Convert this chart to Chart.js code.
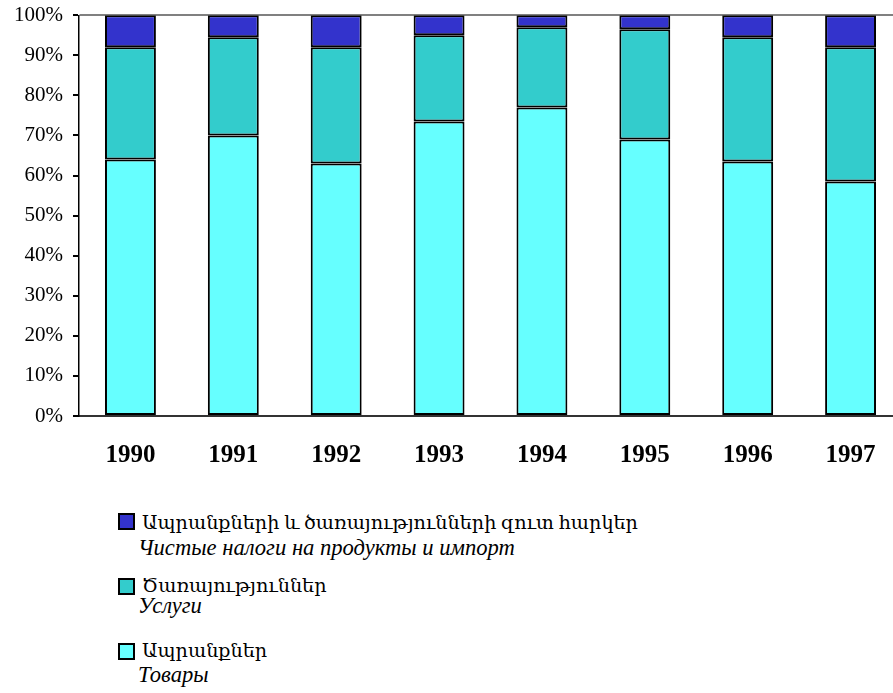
<!DOCTYPE html>
<html>
<head>
<meta charset="utf-8">
<script src="https://cdn.jsdelivr.net/npm/chart.js@4"></script>
<style>
  html, body { margin: 0; padding: 0; background: #fff; overflow: hidden; width: 893px; height: 693px; }
  #wrap { position: absolute; left: 0; top: 0; width: 902px; height: 480px; }
  .legend { position: absolute; left: 0; top: 0; }
  .sw { position: absolute; width: 13px; height: 13px; border: 2px solid #000; }
  .am { position: absolute; white-space: nowrap; font-family: "Liberation Serif", "DejaVu Serif", serif; font-size: 19.2px; color: #000; }
  .ru { position: absolute; white-space: nowrap; font-family: "Liberation Serif", serif; font-style: italic; font-size: 22.6px; color: #000; }
</style>
</head>
<body>
<div id="wrap"><canvas id="myChart" width="902" height="480"></canvas></div>
<div class="legend" id="legend"></div>
<script>
const years = ['1990', '1991', '1992', '1993', '1994', '1995', '1996', '1997'];
const goods = [64, 70, 63, 73.5, 77, 69, 63.5, 58.5];
const services = [28, 24.5, 29, 21.5, 20, 27.5, 31, 33.5];
const taxes = [8, 5.5, 8, 5, 3, 3.5, 5.5, 8];
const labelsAm = ['Ապրանքներ', 'Ծառայություններ', 'Ապրանքների և ծառայությունների զուտ հարկեր'];
const labelsRu = ['Товары', 'Услуги', 'Чистые налоги на продукты и импорт'];
const colors = ['#66ffff', '#33cccc', '#3333cc'];

const serif = "'Liberation Serif', 'Times New Roman', serif";

const ctx = document.getElementById('myChart');
const myChart = new Chart(ctx, {
    type: 'bar',
    data: {
        labels: years,
        datasets: [
            { label: labelsAm[0], data: goods, backgroundColor: colors[0] },
            { label: labelsAm[1], data: services, backgroundColor: colors[1] },
            { label: labelsAm[2], data: taxes, backgroundColor: colors[2] }
        ].map(d => Object.assign(d, {
            borderColor: '#000',
            borderWidth: 2,
            borderSkipped: false,
            categoryPercentage: 1,
            barPercentage: 0.495
        }))
    },
    options: {
        responsive: false,
        animation: false,
        layout: { padding: 0 },
        plugins: {
            legend: { display: false },
            tooltip: { enabled: false }
        },
        scales: {
            x: {
                stacked: true,
                grid: { display: false },
                border: { color: '#333', width: 2 },
                ticks: {
                    color: '#000',
                    padding: 17,
                    font: { family: serif, size: 25, weight: 'bold' }
                },
                afterFit: s => { s.height = 64; }
            },
            y: {
                stacked: true,
                min: 0,
                max: 100,
                ticks: {
                    stepSize: 10,
                    color: '#000',
                    padding: 10,
                    // small lineHeight only shrinks the top overflow padding
                    font: { family: serif, size: 21, lineHeight: 0.5 },
                    callback: v => v + '%'
                },
                grid: {
                    color: c => c.tick && c.tick.value === 100 ? '#808080' : 'rgba(0,0,0,0)',
                    tickColor: '#000',
                    tickLength: 6,
                    lineWidth: 2
                },
                border: { color: '#000', width: 1.5 },
                afterFit: s => { s.width = 79; }
            }
        }
    }
});

// legend, drawn top to bottom: taxes, services, goods
const legendRows = [
    { i: 2, sq: 513, am: 529, ru: 555 },
    { i: 1, sq: 578, am: 592, ru: 613 },
    { i: 0, sq: 643, am: 657, ru: 682 }
];
const legend = document.getElementById('legend');
legendRows.forEach(r => {
    const sw = document.createElement('div');
    sw.className = 'sw';
    sw.style.left = '118px';
    sw.style.top = r.sq + 'px';
    sw.style.background = colors[r.i];
    legend.appendChild(sw);
    const am = document.createElement('div');
    am.className = 'am';
    am.textContent = labelsAm[r.i];
    am.style.left = '142px';
    am.style.top = (r.am - 18) + 'px';
    legend.appendChild(am);
    const ru = document.createElement('div');
    ru.className = 'ru';
    ru.textContent = labelsRu[r.i];
    ru.style.left = '138px';
    ru.style.top = (r.ru - 20) + 'px';
    legend.appendChild(ru);
});
</script>
</body>
</html>
